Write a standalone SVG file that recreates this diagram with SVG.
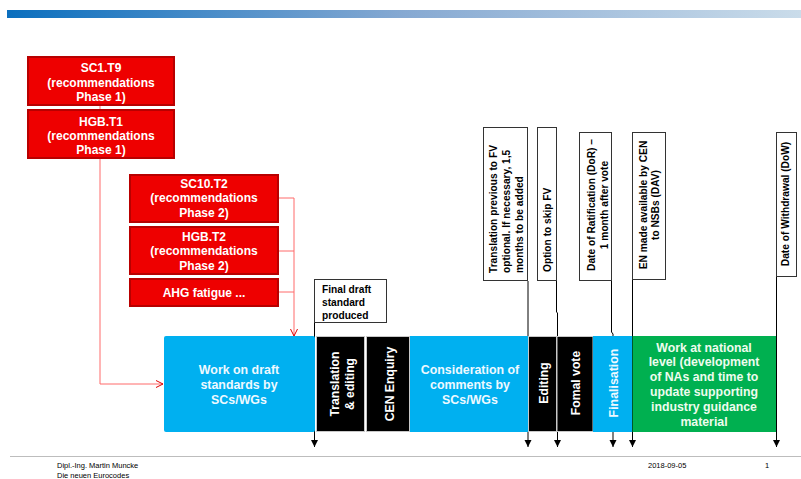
<svg xmlns="http://www.w3.org/2000/svg" width="801" height="479" viewBox="0 0 801 479">
<defs>
<linearGradient id="topbar" x1="0" y1="0" x2="1" y2="0">
<stop offset="0" stop-color="#0b6fbe"/>
<stop offset="0.5" stop-color="#86a9d2"/>
<stop offset="1" stop-color="#cadcea"/>
</linearGradient>
<marker id="ah" markerUnits="userSpaceOnUse" markerWidth="8" markerHeight="8" refX="7" refY="3.5" orient="auto">
<path d="M0,0 L7,3.5 L0,7 z" fill="#000"/>
</marker>
<marker id="rah" markerUnits="userSpaceOnUse" markerWidth="9" markerHeight="9" refX="7" refY="4" orient="auto">
<path d="M0,0.5 L7,4 L0,7.5" fill="none" stroke="#e00000" stroke-width="1"/>
</marker>
</defs>
<style>
.red{fill:#ee0000;stroke:#b80000;stroke-width:2}
.rt{font-family:"Liberation Sans",Arial,sans-serif;font-weight:bold;font-size:12px;fill:#fff;text-anchor:middle}
.blue{fill:#00b0f0}
.green{fill:#00b050}
.blk{fill:#000;stroke:#c8c8c8;stroke-width:1}
.bt{font-family:"Liberation Sans",Arial,sans-serif;font-weight:bold;font-size:12.4px;fill:#eef9ff;text-anchor:middle}
.gt{font-family:"Liberation Sans",Arial,sans-serif;font-weight:bold;font-size:12.3px;fill:#eefcee;text-anchor:middle}
.kt{font-family:"Liberation Sans",Arial,sans-serif;font-weight:bold;font-size:12.2px;fill:#fff;text-anchor:middle}
.ann{fill:#fff;stroke:#333;stroke-width:1}
.at{font-family:"Liberation Sans",Arial,sans-serif;font-weight:bold;font-size:10.2px;fill:#000}
.ft{font-family:"Liberation Sans",Arial,sans-serif;font-size:7.5px;fill:#000}
.conn{fill:none;stroke:#000;stroke-width:1}
.rconn{fill:none;stroke:#ff6a6a;stroke-width:1}
</style>

<rect x="7" y="10" width="794" height="8" fill="url(#topbar)"/>

<g id="connectors">
<polyline class="rconn" points="100,105 100,110"/>
<polyline class="rconn" points="100,158 100,384 163,384" marker-end="url(#rah)"/>
<polyline class="rconn" points="278,198 294,198 294,336" marker-end="url(#rah)"/>
<line class="rconn" x1="278" y1="251" x2="294" y2="251"/>
<line class="rconn" x1="278" y1="292" x2="294" y2="292"/>
<polyline class="conn" points="314.5,323 314.5,447" marker-end="url(#ah)"/>
<polyline class="conn" points="528,281 528,447" marker-end="url(#ah)"/>
<polyline class="conn" points="556.5,281 556.5,312 557.5,313 557.5,447" marker-end="url(#ah)"/>
<polyline class="conn" points="611.5,281 611.5,332 613,334 613,447" marker-end="url(#ah)"/>
<polyline class="conn" points="632.5,280 632.5,447" marker-end="url(#ah)"/>
<polyline class="conn" points="776.5,277 776.5,447" marker-end="url(#ah)"/>
</g>

<g id="sc1t9">
<rect class="red" x="28" y="57" width="146" height="48"/>
<text class="rt" x="101" y="72">SC1.T9</text>
<text class="rt" x="101" y="86.5">(recommendations</text>
<text class="rt" x="101" y="101">Phase 1)</text>
</g>
<g id="hgbt1">
<rect class="red" x="28" y="110" width="146" height="48"/>
<text class="rt" x="101" y="125.5">HGB.T1</text>
<text class="rt" x="101" y="140">(recommendations</text>
<text class="rt" x="101" y="154">Phase 1)</text>
</g>
<g id="sc10t2">
<rect class="red" x="130" y="175" width="148" height="47"/>
<text class="rt" x="204" y="187.5">SC10.T2</text>
<text class="rt" x="204" y="202">(recommendations</text>
<text class="rt" x="204" y="217">Phase 2)</text>
</g>
<g id="hgbt2">
<rect class="red" x="130" y="227" width="148" height="47"/>
<text class="rt" x="204" y="240.5">HGB.T2</text>
<text class="rt" x="204" y="255">(recommendations</text>
<text class="rt" x="204" y="270">Phase 2)</text>
</g>
<g id="ahg">
<rect class="red" x="130" y="279" width="148" height="27"/>
<text class="rt" x="204" y="296.5">AHG fatigue ...</text>
</g>

<g id="work-draft">
<rect class="blue" x="164" y="336" width="151" height="96" rx="2"/>
<text class="bt" x="239" y="374">Work on draft</text>
<text class="bt" x="239" y="389">standards by</text>
<text class="bt" x="239" y="403.5">SCs/WGs</text>
</g>
<g id="translation">
<rect class="blk" x="316.5" y="336.5" width="48" height="95"/>
<text class="kt" transform="translate(338.5,384) rotate(-90)">Translation</text>
<text class="kt" transform="translate(353.5,384) rotate(-90)">&amp; editing</text>
</g>
<g id="cen-enquiry">
<rect class="blk" x="366.5" y="336.5" width="43" height="95"/>
<text class="kt" transform="translate(393.5,384) rotate(-90)">CEN Enquiry</text>
</g>
<g id="consideration">
<rect class="blue" x="410" y="336" width="118" height="96"/>
<text class="bt" x="470" y="374">Consideration of</text>
<text class="bt" x="470" y="389">comments by</text>
<text class="bt" x="470" y="404">SCs/WGs</text>
</g>
<g id="editing">
<rect class="blk" x="528.5" y="336.5" width="28" height="95"/>
<text class="kt" transform="translate(547.5,383) rotate(-90)">Editing</text>
</g>
<g id="formal-vote">
<rect class="blk" x="557" y="336.5" width="36" height="95"/>
<text class="kt" transform="translate(579.5,383) rotate(-90)">Fomal vote</text>
</g>
<g id="finalisation">
<rect class="blue" x="593" y="336" width="39" height="96"/>
<text class="bt" transform="translate(617.5,383) rotate(-90)">Finalisation</text>
</g>
<g id="national">
<rect class="green" x="632.5" y="336" width="143.5" height="96"/>
<text class="gt" x="704" y="351.5">Work at national</text>
<text class="gt" x="704" y="366.3">level (development</text>
<text class="gt" x="704" y="381.1">of NAs and time to</text>
<text class="gt" x="704" y="395.9">update supporting</text>
<text class="gt" x="704" y="410.7">industry guidance</text>
<text class="gt" x="704" y="425.5">material</text>
</g>

<g id="final-draft">
<rect class="ann" x="314.5" y="279.5" width="72" height="43"/>
<text class="at" x="322" y="293">Final draft</text>
<text class="at" x="322" y="306">standard</text>
<text class="at" x="322" y="318.5">produced</text>
</g>
<g id="ann-translation">
<rect class="ann" x="483.5" y="127.5" width="44" height="153"/>
<text class="at" transform="translate(497,273) rotate(-90)">Translation previous to FV</text>
<text class="at" transform="translate(510,273) rotate(-90)">optional. If necessary, 1,5</text>
<text class="at" transform="translate(523,273) rotate(-90)">months to be added</text>
</g>
<g id="ann-skip">
<rect class="ann" x="537.5" y="127.5" width="19" height="153"/>
<text class="at" transform="translate(551,272) rotate(-90)">Option to skip FV</text>
</g>
<g id="ann-dor">
<rect class="ann" x="579.5" y="132.5" width="32" height="148"/>
<text class="at" text-anchor="middle" transform="translate(595,205) rotate(-90)">Date of Ratification (DoR) –</text>
<text class="at" text-anchor="middle" transform="translate(608,205) rotate(-90)">1 month after vote</text>
</g>
<g id="ann-dav">
<rect class="ann" x="632.5" y="132.5" width="33" height="147"/>
<text class="at" text-anchor="middle" transform="translate(647,205) rotate(-90)">EN made available by CEN</text>
<text class="at" text-anchor="middle" transform="translate(659,205) rotate(-90)">to NSBs (DAV)</text>
</g>
<g id="ann-dow">
<rect class="ann" x="776.5" y="132.5" width="20" height="144"/>
<text class="at" text-anchor="middle" transform="translate(789,204) rotate(-90)">Date of Withdrawal (DoW)</text>
</g>

<line x1="10" y1="456.5" x2="801" y2="456.5" stroke="#bdbdbd" stroke-width="1"/>
<text class="ft" x="57" y="468">Dipl.-Ing. Martin Muncke</text>
<text class="ft" x="57" y="478">Die neuen Eurocodes</text>
<text class="ft" x="648" y="468">2018-09-05</text>
<text class="ft" x="765" y="468">1</text>
</svg>
